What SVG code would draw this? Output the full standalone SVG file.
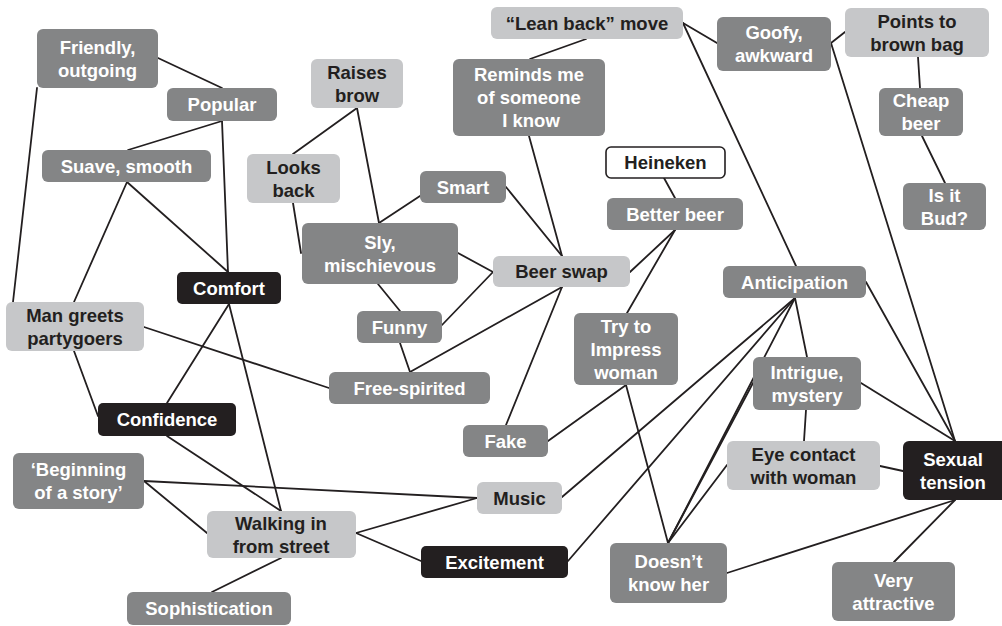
<svg xmlns="http://www.w3.org/2000/svg" width="1002" height="626" viewBox="0 0 1002 626">
<style>
.d{fill:#848586}
.l{fill:#c6c7c9}
.k{fill:#231f20}
.w{fill:#ffffff;stroke:#231f20;stroke-width:1.6}
text{font-family:"Liberation Sans",Arial,sans-serif;font-weight:bold;font-size:18.5px;text-anchor:middle}
.tw{fill:#ffffff}
.tk{fill:#231f20}
#edges line{stroke:#231f20;stroke-width:1.8;stroke-linecap:round}
</style>
<rect width="1002" height="626" fill="#ffffff"/>
<g id="edges">
<line x1="158" y1="58" x2="222" y2="88"/>
<line x1="37" y1="88" x2="13" y2="302"/>
<line x1="222" y1="121" x2="128" y2="150"/>
<line x1="222" y1="121" x2="228" y2="272"/>
<line x1="127" y1="182" x2="74" y2="302"/>
<line x1="127" y1="182" x2="228" y2="272"/>
<line x1="293" y1="154" x2="357" y2="108"/>
<line x1="293" y1="203" x2="301" y2="253"/>
<line x1="357" y1="108" x2="379" y2="223"/>
<line x1="420" y1="196" x2="379" y2="223"/>
<line x1="506" y1="187" x2="562" y2="256"/>
<line x1="529" y1="136" x2="562" y2="256"/>
<line x1="586" y1="39" x2="530" y2="59"/>
<line x1="458" y1="253" x2="493" y2="272"/>
<line x1="442" y1="325" x2="493" y2="272"/>
<line x1="378" y1="284" x2="400" y2="311"/>
<line x1="400" y1="343" x2="410" y2="372"/>
<line x1="410" y1="372" x2="562" y2="287"/>
<line x1="562" y1="287" x2="506" y2="425"/>
<line x1="630" y1="272" x2="675" y2="230"/>
<line x1="675" y1="230" x2="627" y2="313"/>
<line x1="664" y1="178" x2="675" y2="198"/>
<line x1="626" y1="385" x2="548" y2="441"/>
<line x1="626" y1="385" x2="668" y2="543"/>
<line x1="795" y1="298" x2="562" y2="497"/>
<line x1="795" y1="298" x2="568" y2="561"/>
<line x1="795" y1="298" x2="668" y2="543"/>
<line x1="795" y1="298" x2="807" y2="357"/>
<line x1="683" y1="23" x2="796" y2="266"/>
<line x1="683" y1="23" x2="717" y2="43"/>
<line x1="831" y1="43" x2="845" y2="32"/>
<line x1="831" y1="43" x2="955" y2="441"/>
<line x1="918" y1="57" x2="920" y2="88"/>
<line x1="922" y1="136" x2="945" y2="183"/>
<line x1="866" y1="282" x2="955" y2="441"/>
<line x1="861" y1="383" x2="955" y2="441"/>
<line x1="806" y1="410" x2="804" y2="441"/>
<line x1="880" y1="466" x2="903" y2="471"/>
<line x1="955" y1="500" x2="727" y2="573"/>
<line x1="955" y1="500" x2="894" y2="562"/>
<line x1="753" y1="383" x2="668" y2="543"/>
<line x1="727" y1="465" x2="668" y2="543"/>
<line x1="144" y1="327" x2="329" y2="388"/>
<line x1="74" y1="351" x2="98" y2="416"/>
<line x1="229" y1="304" x2="167" y2="403"/>
<line x1="229" y1="304" x2="281" y2="511"/>
<line x1="167" y1="436" x2="281" y2="511"/>
<line x1="144" y1="481" x2="477" y2="498"/>
<line x1="144" y1="481" x2="207" y2="533"/>
<line x1="356" y1="533" x2="477" y2="498"/>
<line x1="356" y1="533" x2="421" y2="561"/>
<line x1="281" y1="558" x2="212" y2="592"/>
</g>
<g id="friendly"><rect class="d" x="37" y="29" width="121" height="59" rx="6"/><text class="tw" x="97.5"><tspan x="97.5" y="53.5">Friendly,</tspan><tspan x="97.5" y="76.5">outgoing</tspan></text></g>
<g id="popular"><rect class="d" x="167" y="88" width="110" height="33" rx="6"/><text class="tw" x="222" y="111">Popular</text></g>
<g id="suave"><rect class="d" x="42" y="150" width="169" height="32" rx="6"/><text class="tw" x="126.5" y="172.5">Suave, smooth</text></g>
<g id="raises"><rect class="l" x="311" y="59" width="92" height="49" rx="6"/><text class="tk"><tspan x="357" y="78.5">Raises</tspan><tspan x="357" y="101.5">brow</tspan></text></g>
<g id="looks"><rect class="l" x="247" y="154" width="93" height="49" rx="6"/><text class="tk"><tspan x="293.5" y="173.5">Looks</tspan><tspan x="293.5" y="196.5">back</tspan></text></g>
<g id="leanback"><rect class="l" x="491" y="7" width="192" height="32" rx="6"/><text class="tk" x="587" y="29.5">“Lean back” move</text></g>
<g id="reminds"><rect class="d" x="453" y="59" width="152" height="77" rx="6"/><text class="tw"><tspan x="529" y="81">Reminds me</tspan><tspan x="529" y="104">of someone</tspan><tspan x="531" y="127">I know</tspan></text></g>
<g id="goofy"><rect class="d" x="717" y="17" width="114" height="54" rx="6"/><text class="tw"><tspan x="774" y="39">Goofy,</tspan><tspan x="774" y="62">awkward</tspan></text></g>
<g id="points"><rect class="l" x="845" y="8" width="144" height="49" rx="6"/><text class="tk"><tspan x="917" y="27.5">Points to</tspan><tspan x="917" y="50.5">brown bag</tspan></text></g>
<g id="cheap"><rect class="d" x="879" y="88" width="84" height="48" rx="6"/><text class="tw"><tspan x="921" y="107">Cheap</tspan><tspan x="921" y="130">beer</tspan></text></g>
<g id="bud"><rect class="d" x="903" y="183" width="83" height="47" rx="6"/><text class="tw"><tspan x="944.5" y="201.5">Is it</tspan><tspan x="944.5" y="224.5">Bud?</tspan></text></g>
<g id="heineken"><rect class="w" x="606" y="147" width="119" height="31" rx="5"/><text class="tk" x="665.5" y="169">Heineken</text></g>
<g id="better"><rect class="d" x="607" y="198" width="136" height="32" rx="6"/><text class="tw" x="675" y="220.5">Better beer</text></g>
<g id="smart"><rect class="d" x="420" y="171" width="86" height="32" rx="6"/><text class="tw" x="463" y="193.5">Smart</text></g>
<g id="sly"><rect class="d" x="302" y="223" width="156" height="61" rx="6"/><text class="tw"><tspan x="380" y="248.5">Sly,</tspan><tspan x="380" y="271.5">mischievous</tspan></text></g>
<g id="beerswap"><rect class="l" x="493" y="256" width="137" height="31" rx="6"/><text class="tk" x="561.5" y="278">Beer swap</text></g>
<g id="comfort"><rect class="k" x="177" y="272" width="104" height="32" rx="5"/><text class="tw" x="229" y="294.5">Comfort</text></g>
<g id="anticipation"><rect class="d" x="723" y="266" width="143" height="32" rx="6"/><text class="tw" x="794.5" y="288.5">Anticipation</text></g>
<g id="mangreets"><rect class="l" x="6" y="302" width="138" height="49" rx="6"/><text class="tk"><tspan x="75" y="321.5">Man greets</tspan><tspan x="75" y="344.5">partygoers</tspan></text></g>
<g id="funny"><rect class="d" x="357" y="311" width="85" height="32" rx="6"/><text class="tw" x="399.5" y="333.5">Funny</text></g>
<g id="tryimpress"><rect class="d" x="574" y="313" width="104" height="72" rx="6"/><text class="tw"><tspan x="626" y="332.5">Try to</tspan><tspan x="626" y="355.5">Impress</tspan><tspan x="626" y="378.5">woman</tspan></text></g>
<g id="intrigue"><rect class="d" x="753" y="357" width="108" height="53" rx="6"/><text class="tw"><tspan x="807" y="378.5">Intrigue,</tspan><tspan x="807" y="401.5">mystery</tspan></text></g>
<g id="freespirited"><rect class="d" x="329" y="372" width="161" height="32" rx="6"/><text class="tw" x="409.5" y="394.5">Free-spirited</text></g>
<g id="confidence"><rect class="k" x="98" y="403" width="138" height="33" rx="5"/><text class="tw" x="167" y="426">Confidence</text></g>
<g id="fake"><rect class="d" x="463" y="425" width="85" height="32" rx="6"/><text class="tw" x="505.5" y="447.5">Fake</text></g>
<g id="eyecontact"><rect class="l" x="727" y="441" width="153" height="49" rx="6"/><text class="tk"><tspan x="803.5" y="460.5">Eye contact</tspan><tspan x="803.5" y="483.5">with woman</tspan></text></g>
<g id="sexual"><rect class="k" x="903" y="441" width="104" height="59" rx="6"/><text class="tw"><tspan x="953" y="465.5">Sexual</tspan><tspan x="953" y="488.5">tension</tspan></text></g>
<g id="beginning"><rect class="d" x="13" y="453" width="131" height="56" rx="6"/><text class="tw"><tspan x="78.5" y="476">‘Beginning</tspan><tspan x="78.5" y="499">of a story’</tspan></text></g>
<g id="music"><rect class="l" x="477" y="482" width="85" height="32" rx="6"/><text class="tk" x="519.5" y="504.5">Music</text></g>
<g id="walking"><rect class="l" x="207" y="511" width="149" height="47" rx="6"/><text class="tk"><tspan x="281" y="529.5">Walking in</tspan><tspan x="281" y="552.5">from street</tspan></text></g>
<g id="excitement"><rect class="k" x="421" y="546" width="147" height="32" rx="5"/><text class="tw" x="494.5" y="568.5">Excitement</text></g>
<g id="doesnt"><rect class="d" x="610" y="543" width="117" height="60" rx="6"/><text class="tw"><tspan x="668.5" y="568">Doesn’t</tspan><tspan x="668.5" y="591">know her</tspan></text></g>
<g id="veryattractive"><rect class="d" x="832" y="562" width="123" height="59" rx="6"/><text class="tw"><tspan x="893.5" y="586.5">Very</tspan><tspan x="893.5" y="609.5">attractive</tspan></text></g>
<g id="sophistication"><rect class="d" x="127" y="592" width="164" height="33" rx="6"/><text class="tw" x="209" y="615">Sophistication</text></g>
</svg>
